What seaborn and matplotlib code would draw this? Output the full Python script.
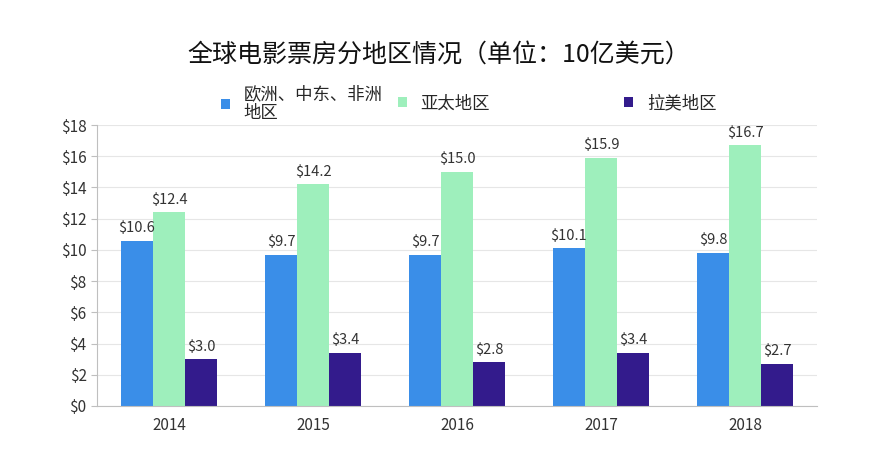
# 全球电影票房分地区情况 bar chart
import pandas as pd
import seaborn as sns
import matplotlib.pyplot as plt
from matplotlib.patches import Patch
from matplotlib.ticker import FixedLocator

# data
years = ['2014', '2015', '2016', '2017', '2018']
regions = ['欧洲、中东、非洲\n地区', '亚太地区', '拉美地区']
emea = [10.6, 9.7, 9.7, 10.1, 9.8]
apac = [12.4, 14.2, 15.0, 15.9, 16.7]
latam = [3.0, 3.4, 2.8, 3.4, 2.7]
colors = ['#3a8ee8', '#9eefbc', '#331b8c']

df = pd.DataFrame({
    'year': years * 3,
    'region': [regions[0]] * 5 + [regions[1]] * 5 + [regions[2]] * 5,
    'value': emea + apac + latam,
})

sns.set_style('white')
plt.rcParams['font.family'] = ['Noto Sans CJK SC', 'DejaVu Sans']

fig = plt.figure(figsize=(8.77, 4.75), dpi=100)
ax = fig.add_axes([0.1106, 0.1453, 0.821, 0.5915])

sns.barplot(data=df, x='year', y='value', hue='region', palette=colors,
            width=0.667, gap=0, saturation=1, linewidth=0, ax=ax, legend=False)

for c in ax.containers:
    ax.bar_label(c, labels=['${:.1f}'.format(v) for v in c.datavalues],
                 padding=4, fontsize=10.5, color='#333333')

ax.set_xlim(-0.5, 4.5)
ax.set_ylim(0, 18)
ax.set_yticks(range(0, 19, 2))
ax.set_yticklabels(['${}'.format(v) for v in range(0, 19, 2)])
ax.yaxis.grid(True, color='#e6e6e6', linewidth=0.8)
ax.set_axisbelow(True)
ax.set_xlabel('')
ax.set_ylabel('')

for s in ['top', 'right']:
    ax.spines[s].set_visible(False)
for s in ['left', 'bottom']:
    ax.spines[s].set_color('#bfbfbf')
    ax.spines[s].set_linewidth(0.8)

ax.tick_params(axis='x', which='major', length=0, labelsize=11, pad=8, colors='#333333')
ax.xaxis.set_minor_locator(FixedLocator([-0.5, 0.5, 1.5, 2.5, 3.5, 4.5]))
ax.tick_params(axis='x', which='minor', length=4, color='#bfbfbf', width=0.8)
ax.tick_params(axis='y', left=True, length=4, color='#bfbfbf', width=0.8,
               labelsize=11, labelcolor='#333333')

fig.text(0.5, 0.886, '全球电影票房分地区情况（单位：10亿美元）', ha='center', va='center',
         fontsize=18, color='#111111')

# legend, three separate entries to keep the uneven spacing
leg_x = [0.234, 0.436, 0.694]
for i in range(3):
    h = Patch(facecolor=colors[i], edgecolor='none')
    lg = fig.legend(handles=[h], labels=[regions[i]], loc='center left',
                    bbox_to_anchor=(leg_x[i], 0.782), frameon=False,
                    handlelength=0.5, handleheight=0.5, handletextpad=0.8,
                    fontsize=12.5, labelspacing=0)
    for t in lg.get_texts():
        t.set_linespacing(1.05)

fig.savefig('out.png', dpi=100)
